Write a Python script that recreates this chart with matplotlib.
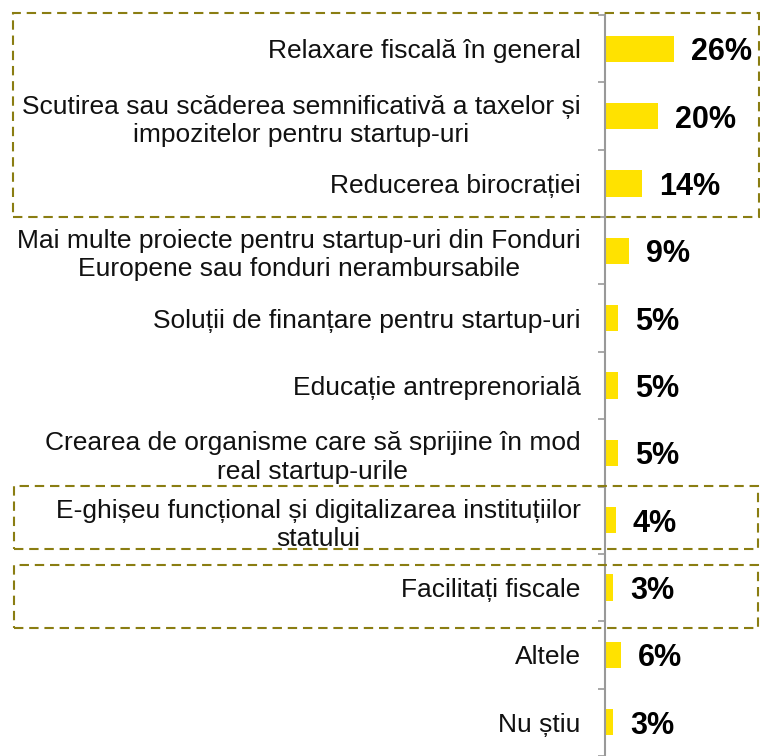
import matplotlib
matplotlib.use("Agg")
import matplotlib.pyplot as plt
from matplotlib.patches import Rectangle
import numpy as np

plt.rcParams['font.family'] = ['Liberation Sans', 'DejaVu Sans']

categories = [
    "Relaxare fiscală în general",
    "Scutirea sau scăderea semnificativă a taxelor și\nimpozitelor pentru startup-uri",
    "Reducerea birocrației",
    "Mai multe proiecte pentru startup-uri din Fonduri\nEuropene sau fonduri nerambursabile",
    "Soluții de finanțare pentru startup-uri",
    "Educație antreprenorială",
    "Crearea de organisme care să sprijine în mod\nreal startup-urile",
    "E-ghișeu funcțional și digitalizarea instituțiilor\nstatului",
    "Facilitați fiscale",
    "Altele",
    "Nu știu",
]
values = [26, 20, 14, 9, 5, 5, 5, 4, 3, 6, 3]
value_labels = ["26%", "20%", "14%", "9%", "5%", "5%", "5%", "4%", "3%", "6%", "3%"]

W, H = 760, 756
fig = plt.figure(figsize=(W / 100, H / 100), dpi=100)
ax = fig.add_axes([605 / W, 0, 1 - 605 / W, (H - 15) / H])

y = np.arange(len(categories))
ax.barh(y, values, height=0.39, color="#FFE200")
ax.set_ylim(len(categories) - 0.5, -0.5)
ax.set_xlim(0, 155 / 2.64)

for i, (v, lab) in enumerate(zip(values, value_labels)):
    ax.annotate(lab, (v, i), xytext=(12.5, 0), textcoords="offset points",
                ha="left", va="center_baseline", fontsize=22, fontweight="bold",
                color="black")

for s in ["top", "right", "bottom"]:
    ax.spines[s].set_visible(False)
ax.spines["left"].set_color("#999999")
ax.spines["left"].set_linewidth(1.5)
ax.set_xticks([])

ax.set_yticks(y)
ax.set_yticklabels(categories, fontsize=19, color="#111111")
ax.set_yticks(np.arange(len(categories) + 1) - 0.5, minor=True)
ax.tick_params(axis="y", which="major", length=0, pad=17.5)
ax.tick_params(axis="y", which="minor", length=5, width=1.2, color="#999999")
for t in ax.get_yticklabels():
    t.set_multialignment("center")
    t.set_linespacing(1.22)

# dashed group boxes (pixel coords from top-left)
boxes = [(13, 13, 759, 217), (14, 486, 758, 549), (14, 565, 758, 628)]
for x0, y0, x1, y1 in boxes:
    fig.patches.append(Rectangle((x0 / W, 1 - y1 / H), (x1 - x0) / W, (y1 - y0) / H,
                                 transform=fig.transFigure, fill=False,
                                 edgecolor="#8A7D12", linewidth=1.5,
                                 linestyle=(0, (4.5, 2.8))))

fig.savefig("out.png", dpi=100)
